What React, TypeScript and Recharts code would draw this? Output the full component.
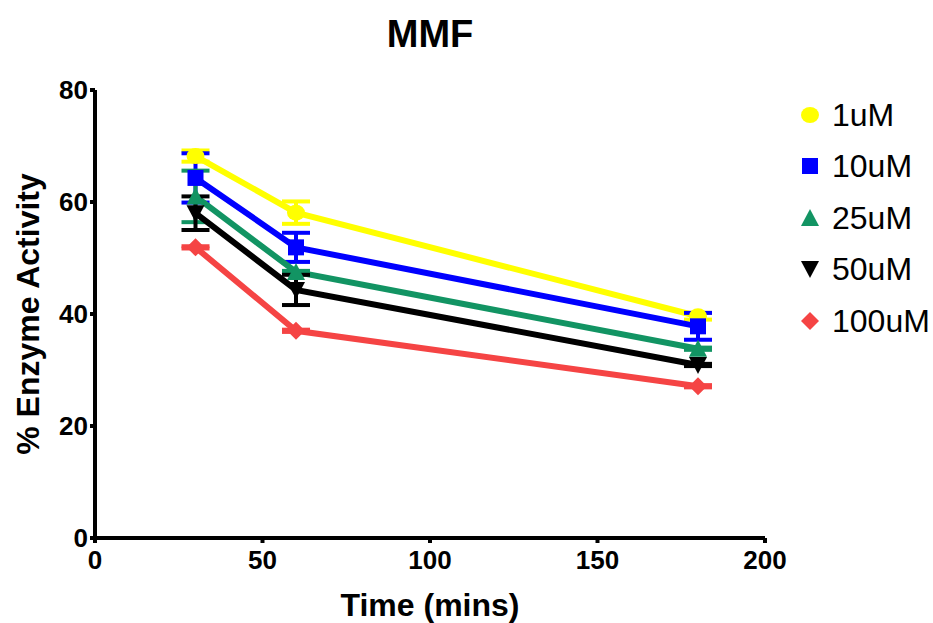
import React from "react";
import { LineChart, Line, XAxis, YAxis, ErrorBar } from "recharts";

const times = [30, 60, 180];
const seriesNames = ["1uM", "10uM", "25uM", "50uM", "100uM"];
const v1uM = [68.2, 58.1, 39.6];
const e1uM = [1.0, 2.0, 0.6];
const v10uM = [64.3, 51.9, 37.8];
const e10uM = [4.4, 2.6, 2.4];
const v25uM = [61.0, 47.5, 33.8];
const e25uM = [4.6, 0.2, 0.2];
const v50uM = [58.0, 44.3, 30.9];
const e50uM = [3.0, 2.7, 0.2];
const v100uM = [51.9, 37.0, 27.1];
const e100uM = [0.2, 0.2, 0.2];
const xTicks = [0, 50, 100, 150, 200];
const yTicks = [0, 20, 40, 60, 80];
const colors = ["#FFFF00", "#0000FF", "#129463", "#000000", "#F54444"];
const shapes = ["circle", "square", "triangle", "invtriangle", "diamond"];

const allValues = [v1uM, v10uM, v25uM, v50uM, v100uM];
const allErrors = [e1uM, e10uM, e25uM, e50uM, e100uM];

const FONT = "'Liberation Sans', Arial, sans-serif";

function Marker({ shape, color, cx, cy, s = 8 }: any) {
  if (cx == null || cy == null) return null;
  switch (shape) {
    case "circle":
      return <ellipse cx={cx} cy={cy} rx={s + 1} ry={s} fill={color} />;
    case "square":
      return <rect x={cx - s} y={cy - s} width={2 * s} height={2 * s} fill={color} />;
    case "triangle":
      return (
        <polygon
          points={`${cx},${cy - s - 1} ${cx + s + 1},${cy + s} ${cx - s - 1},${cy + s}`}
          fill={color}
        />
      );
    case "invtriangle":
      return (
        <polygon
          points={`${cx},${cy + s + 1} ${cx + s + 1},${cy - s} ${cx - s - 1},${cy - s}`}
          fill={color}
        />
      );
    case "diamond":
      return (
        <polygon
          points={`${cx},${cy - s - 1} ${cx + s + 1},${cy} ${cx},${cy + s + 1} ${cx - s - 1},${cy}`}
          fill={color}
        />
      );
    default:
      return null;
  }
}

const seriesData = seriesNames.map((name, i) =>
  times.map((t, j) => ({ time: t, value: allValues[i][j], err: allErrors[i][j] }))
);

function LegendBox() {
  return (
    <div style={{ position: "absolute", left: 796, top: 89, fontFamily: FONT }}>
      {seriesNames.map((n, i) => (
        <div key={n} style={{ display: "flex", alignItems: "center", height: 51.5 }}>
          <svg width={28} height={28} style={{ marginRight: 8 }}>
            <Marker shape={shapes[i]} color={colors[i]} cx={14} cy={14} s={8} />
          </svg>
          <span style={{ fontSize: 32, color: "#000", lineHeight: "32px" }}>{n}</span>
        </div>
      ))}
    </div>
  );
}

export default function App() {
  return (
    <div style={{ position: "absolute", left: 0, top: 0, width: 933, height: 623, background: "#fff" }}>
      <div
        style={{
          position: "absolute",
          left: 0,
          top: 12,
          width: 860,
          textAlign: "center",
          fontFamily: FONT,
          fontWeight: "bold",
          fontSize: 38,
          lineHeight: "44px",
        }}
      >
        MMF
      </div>
      <LineChart
        width={933}
        height={623}
        margin={{ top: 90, right: 168, bottom: 0, left: 0 }}
        style={{ fontFamily: FONT }}
      >
        <XAxis
          type="number"
          dataKey="time"
          domain={[0, 200]}
          ticks={xTicks}
          allowDuplicatedCategory={false}
          height={85}
          stroke="#000"
          axisLine={{ strokeWidth: 4 }}
          tickLine={{ strokeWidth: 4 }}
          tickSize={5}
          tickMargin={8}
          tick={{ fill: "#000", fontSize: 26, fontWeight: "bold", fontFamily: FONT }}
          label={{
            value: "Time (mins)",
            position: "insideBottom",
            offset: 7,
            fill: "#000",
            fontSize: 32,
            fontWeight: "bold",
            fontFamily: FONT,
          }}
        />
        <YAxis
          type="number"
          domain={[0, 80]}
          ticks={yTicks}
          width={95}
          stroke="#000"
          axisLine={{ strokeWidth: 4 }}
          tickLine={{ strokeWidth: 4 }}
          tickSize={5}
          tick={{ fill: "#000", fontSize: 26, fontWeight: "bold", fontFamily: FONT }}
          label={{
            value: "% Enzyme Activity",
            angle: -90,
            position: "insideLeft",
            offset: 28,
            style: { textAnchor: "middle" },
            fill: "#000",
            fontSize: 32,
            fontWeight: "bold",
            fontFamily: FONT,
          }}
        />
        {seriesNames.map((n, i) => (
          <Line
            key={n}
            name={n}
            data={seriesData[i]}
            dataKey="value"
            stroke={colors[i]}
            strokeWidth={6}
            isAnimationActive={false}
            dot={(p: any) => (
              <Marker key={`${n}-${p.index}`} shape={shapes[i]} color={colors[i]} cx={p.cx} cy={p.cy} s={8} />
            )}
            activeDot={false}
          >
            <ErrorBar dataKey="err" direction="y" width={14} strokeWidth={4} stroke={colors[i]} />
          </Line>
        ))}
      </LineChart>
      <LegendBox />
    </div>
  );
}
